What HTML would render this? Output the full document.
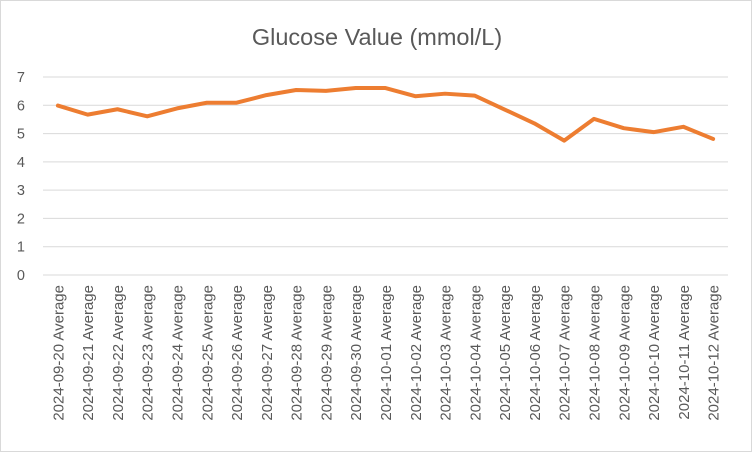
<!DOCTYPE html>
<html><head><meta charset="utf-8"><style>
body{margin:0;background:#fff;font-family:"Liberation Sans",sans-serif}
#wrap{position:relative;width:752px;height:452px;box-sizing:border-box;border:1px solid #d9d9d9}
</style></head><body>
<div id="wrap">
<svg id="chart" width="750" height="450"></svg>
</div>
<script>
const categories=["2024-09-20","2024-09-21","2024-09-22","2024-09-23","2024-09-24","2024-09-25","2024-09-26","2024-09-27","2024-09-28","2024-09-29","2024-09-30","2024-10-01","2024-10-02","2024-10-03","2024-10-04","2024-10-05","2024-10-06","2024-10-07","2024-10-08","2024-10-09","2024-10-10","2024-10-11","2024-10-12"];
const glucose=[5.99,5.67,5.86,5.61,5.89,6.09,6.09,6.36,6.54,6.51,6.61,6.61,6.32,6.41,6.34,5.85,5.36,4.75,5.52,5.19,5.05,5.24,4.81];
const yTicks=[0,1,2,3,4,5,6,7];
const NS="http://www.w3.org/2000/svg";
const svg=document.getElementById('chart');
const x0=42,x1=727,yBase=274,yTop=76,yMax=7;
const step=(x1-x0)/categories.length;
const xs=i=>x0+step*(i+0.5);
const ys=v=>yBase-(v/yMax)*(yBase-yTop);
function mk(t,a){const e=document.createElementNS(NS,t);for(const k in a)e.setAttribute(k,a[k]);svg.appendChild(e);return e;}
let t=mk('text',{x:376,y:44,'text-anchor':'middle','font-size':'23.5','fill':'#595959'});


t.textContent='Glucose Value (mmol/L)';
yTicks.forEach(v=>{
 const l=mk('line',{x1:x0,x2:x1,y1:ys(v),y2:ys(v),stroke:'#d9d9d9','stroke-width':1});
 
 
 const tx=mk('text',{x:24,y:ys(v)+5,'text-anchor':'end','font-size':'14.5','fill':'#595959'});
 
 
 tx.textContent=v;
});
categories.forEach((c,i)=>{
 const tx=mk('text',{transform:`translate(${xs(i)+5.5},284) rotate(-90)`,'text-anchor':'end','font-size':'15','fill':'#595959'});
 
 
 tx.textContent=c+' Average';
});
const p=mk('polyline',{points:glucose.map((v,i)=>xs(i)+','+ys(v)).join(' '),fill:'none',stroke:'#ed7d31','stroke-width':4,'stroke-linejoin':'round','stroke-linecap':'round'});


</script>
</body></html>
